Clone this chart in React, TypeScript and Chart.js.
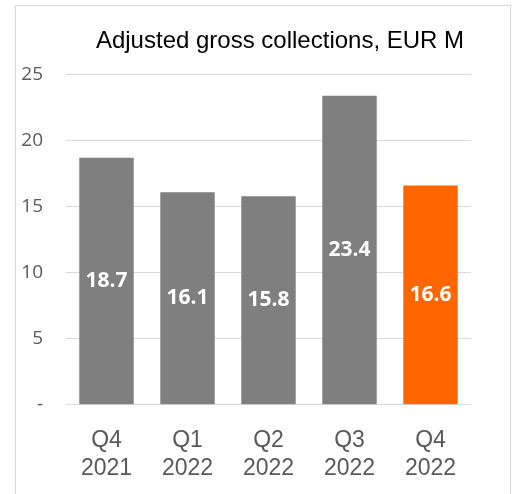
import React, { useEffect, useRef } from "react";
import { Chart, registerables } from "chart.js";

Chart.register(...registerables);

const TITLE = "Adjusted gross collections, EUR M";
const CATEGORIES: string[][] = [
  ["Q4", "2021"],
  ["Q1", "2022"],
  ["Q2", "2022"],
  ["Q3", "2022"],
  ["Q4", "2022"],
];
const VALUES = [18.7, 16.1, 15.8, 23.4, 16.6];
const BAR_COLORS = ["#7F7F7F", "#7F7F7F", "#7F7F7F", "#7F7F7F", "#FF6600"];
const Y_MIN = 0;
const Y_MAX = 25;
const Y_STEP = 5;

const titlePlugin = {
  id: "offsetTitle",
  afterDraw(chart: any) {
    const { ctx, chartArea } = chart;
    ctx.save();
    ctx.font = '24px "Liberation Sans", Arial, sans-serif';
    ctx.fillStyle = "#000000";
    ctx.textAlign = "center";
    ctx.textBaseline = "middle";
    ctx.fillText(TITLE, (chartArea.left + chartArea.right) / 2 + 11.5, chartArea.top - 33.4);
    ctx.restore();
  },
};

const valueLabelPlugin = {
  id: "valueLabels",
  afterDatasetsDraw(chart: any) {
    const { ctx } = chart;
    const meta = chart.getDatasetMeta(0);
    const data = chart.data.datasets[0].data as number[];
    ctx.save();
    ctx.font = 'bold 21px "Open Sans", sans-serif';
    ctx.fillStyle = "#FFFFFF";
    ctx.textAlign = "center";
    ctx.textBaseline = "middle";
    meta.data.forEach((el: any, i: number) => {
      ctx.fillText(data[i].toFixed(1), el.x, (el.y + el.base) / 2);
    });
    ctx.restore();
  },
};

export default function App() {
  const canvasRef = useRef<HTMLCanvasElement | null>(null);

  useEffect(() => {
    document.body.style.margin = "0";
    const canvas = canvasRef.current;
    if (!canvas) return;
    const chart = new Chart(canvas, {
      type: "bar",
      data: {
        labels: CATEGORIES,
        datasets: [
          {
            data: VALUES,
            backgroundColor: BAR_COLORS,
            borderWidth: 0,
            categoryPercentage: 1,
            barPercentage: 0.672,
          },
        ],
      },
      options: {
        responsive: false,
        animation: false,
        devicePixelRatio: 1,
        layout: { padding: { top: 74.7, right: 43, left: 0, bottom: 0 } },
        plugins: {
          legend: { display: false },
          title: { display: false },
          tooltip: { enabled: false },
        },
        scales: {
          x: {
            grid: { display: false },
            border: { display: false },
            ticks: {
              color: "#595959",
              padding: 13.5,
              maxRotation: 0,
              autoSkip: false,
              font: { family: '"Liberation Sans", Arial, sans-serif', size: 23, lineHeight: 1.24 },
            },
            afterFit(scale: any) {
              scale.height = 89.3;
            },
          },
          y: {
            min: Y_MIN,
            max: Y_MAX,
            grid: { color: "#D9D9D9", lineWidth: 1, drawTicks: false },
            border: { display: false },
            ticks: {
              stepSize: Y_STEP,
              color: "#595959",
              padding: 23,
              font: { family: '"Open Sans", sans-serif', size: 19 },
              callback: (v: any) => (Number(v) === 0 ? "-" : String(v)),
            },
            afterFit(scale: any) {
              scale.width = 66;
            },
          },
        },
      },
      plugins: [titlePlugin, valueLabelPlugin],
    });
    return () => chart.destroy();
  }, []);

  return (
    <div style={{ position: "relative", width: 514, height: 494, overflow: "hidden", background: "#FFFFFF" }}>
      <div
        style={{
          position: "absolute",
          left: 15,
          top: 5,
          width: 496,
          height: 520,
          border: "1px solid #D9D9D9",
          boxSizing: "border-box",
        }}
      />
      <canvas
        ref={canvasRef}
        width={514}
        height={494}
        style={{ position: "absolute", left: 0, top: 0, width: 514, height: 494 }}
      />
    </div>
  );
}
